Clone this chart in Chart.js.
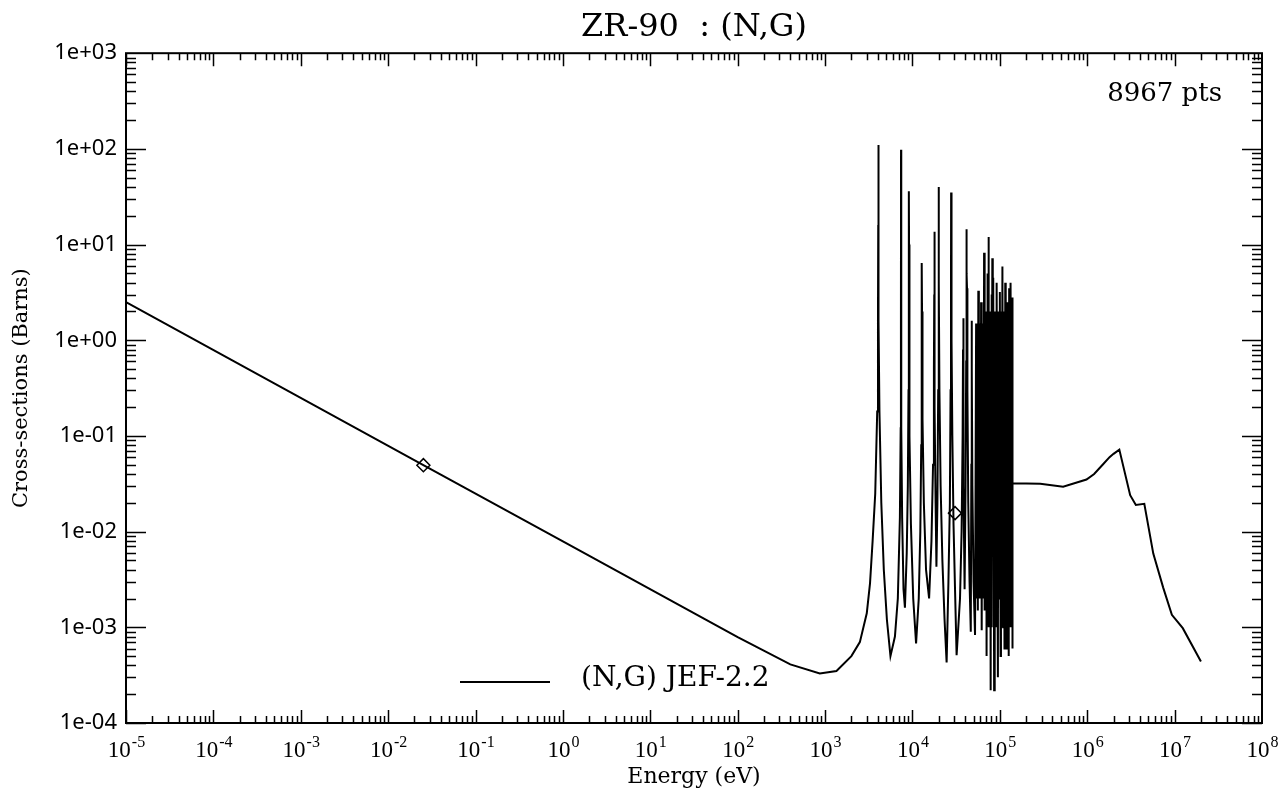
<!DOCTYPE html>
<html>
<head>
<meta charset="utf-8">
<title>ZR-90 : (N,G)</title>
<script src="https://cdn.jsdelivr.net/npm/chart.js@4.4.1/dist/chart.umd.min.js"></script>
<style>
  body { margin: 0; background: #fff; }
  #wrap { width: 1281px; height: 790px; }
</style>
</head>
<body>
<div id="wrap"><canvas id="xs_chart" width="1281" height="790"></canvas></div>
<script>
// values (energy in eV, cross-section in barns)
const thermal_e  = [1e-5, 0.0253, 1, 100, 400, 870, 1350];
const thermal_xs = [2.5, 0.0495, 7.9e-3, 7.9e-4, 4.1e-4, 3.3e-4, 3.5e-4];

// resolved resonances, one resonance (or group) per line
const resolved_e = [
  2000, 2500, 3000, 3270, 3500, 3750, 3950, 4030, 4058, 4070, 4082, 4110, 4190, 4400, 4700, 5100, 5600,
  6300, 6800, 7180, 7330, 7380, 7400, 7420, 7470, 7620, 7900, 8200,
  8600, 8850, 9010, 9080, 9100, 9140, 9180, 9300, 9600, 10200, 11000,
  11800, 12300, 12600, 12720, 12800, 12870, 12960, 13100, 13500, 14300, 15500,
  16500, 17200, 17600, 17750, 17800, 17860, 18050, 18400, 18800,
  19300, 19700, 19920, 20000, 20080, 20350, 21000, 22000, 23300, 24600,
  25800, 26800, 27300, 27600, 27700, 27850, 28000, 28150, 28600, 29500, 30700, 32000,
  35000, 36500, 37500, 37900, 38000, 38200, 38800, 39500,
  40500, 41200, 41550, 41600, 41700, 42100, 42400, 42700, 43500, 45000, 46500,
  47200, 47600, 47700, 47850, 48500, 50000, 52000,
  53500, 54500, 55500, 56000, 56700, 57500, 58300, 59000, 59800, 60300, 61000, 62000,
  63000, 63700, 64500, 65200, 66000, 67000, 68000, 68700, 69500, 70500,
  71500, 72000, 72800, 73400, 74000, 75000, 76000, 76500, 77300, 78500,
  79500, 80000, 80700, 81300, 82000, 83000, 84000, 86000,
  87000, 87700, 88500, 90000, 91000, 91500, 92300, 95000,
  96000, 96500, 97300, 98500, 100000, 102000, 103000, 103500, 104500, 105500,
  107000, 109000, 110000, 110500, 111500, 113000, 114000, 114500, 115300, 116200,
  117300, 119000, 120000, 120500, 121500, 123000, 124500, 126300, 127800, 130000,
  131500, 132200, 133000, 134300, 135800, 136800, 138000, 139200
];
const resolved_xs = [
  5.0e-4, 7e-4, 1.4e-3, 2.9e-3, 8e-3, 0.025, 0.18, 1.6, 16, 110, 16, 1.6, 0.18, 0.02, 4e-3, 1.2e-3, 5e-4,
  8e-4, 2e-3, 0.014, 0.12, 1.3, 98, 1.3, 0.12, 0.014, 2.5e-3, 1.6e-3,
  6e-3, 0.03, 0.3, 3, 36, 10, 1, 0.1, 0.012, 2e-3, 6.8e-4,
  2e-3, 0.01, 0.08, 0.6, 6.4, 2, 1.5, 0.15, 0.02, 4e-3, 2e-3,
  8e-3, 0.05, 0.5, 3, 13.6, 2, 0.2, 0.02, 4.3e-3,
  0.02, 0.3, 4, 40, 4, 0.3, 0.03, 5e-3, 1.2e-3, 4.3e-4,
  3e-3, 0.02, 0.3, 4, 35, 16.6, 16.6, 1, 0.1, 0.012, 2.5e-3, 5.1e-4,
  2e-3, 0.01, 0.1, 0.8, 1.7, 0.5, 0.03, 2.5e-3,
  0.03, 0.6, 6, 14.5, 5, 3.5, 3.5, 0.3, 0.02, 3e-3, 9e-4,
  0.05, 0.6, 1.6, 0.5, 0.03, 3e-3, 8.3e-4,
  1.5, 2e-3, 1, 1.5e-3, 3.3, 4e-3, 1.5, 2e-3, 1.2, 3e-3, 2.5, 9.3e-4,
  1, 2e-3, 1.5, 3e-3, 8.2, 1.5e-3, 1.8, 2e-3, 2, 5e-4,
  1.5, 2e-3, 5, 3e-3, 12, 1e-3, 2, 3e-3, 1.5, 2.2e-4,
  1.5, 1e-3, 3, 1e-3, 7.2, 0.5, 4.5, 2.2e-4,
  2, 1.5e-3, 2, 1e-3, 1.5, 1e-3, 4, 3e-4,
  2, 2e-3, 1.2, 2e-3, 3.2, 5e-4, 1.5, 2e-3, 2, 1e-3,
  5.9, 1e-3, 2, 2e-3, 1.5, 6e-4, 1.5, 2e-3, 4, 2e-3,
  3.1, 6e-4, 1.5, 2e-3, 2.5, 1e-3, 1.8, 5e-4, 3.5, 1e-3,
  2, 1.5e-3, 4, 0.3, 1.2, 1e-3, 2.8, 6e-4
];

const fast_e  = [140000, 290000, 530000, 980000, 1.2e6, 1.5e6, 1.8e6, 2.0e6, 2.33e6, 3.1e6, 3.6e6, 4.5e6, 5.7e6, 7.4e6, 9.3e6, 1.24e7, 2.0e7];
const fast_xs = [0.032, 0.0316, 0.0295, 0.035, 0.04, 0.05, 0.06, 0.065, 0.072, 0.024, 0.019, 0.0195, 5.9e-3, 2.6e-3, 1.35e-3, 9.8e-4, 4.4e-4];

// thermal point and 30 keV point
const marker_e  = [0.0253, 30700];
const marker_xs = [0.0495, 0.0156];

const x_decades = [-5, -4, -3, -2, -1, 0, 1, 2, 3, 4, 5, 6, 7, 8];
const y_decades = [-4, -3, -2, -1, 0, 1, 2, 3];

const title_text = 'ZR-90  : (N,G)';
const legend_text = '(N,G) JEF-2.2';
const pts_text = '8967 pts';

const all_e = thermal_e.concat(resolved_e, fast_e);
const all_xs = thermal_xs.concat(resolved_xs, fast_xs);

function expLabel(v) {
  const p = Math.round(Math.log10(v));
  const s = p < 0 ? '-' : '+';
  const a = Math.abs(p);
  return '1e' + s + (a < 10 ? '0' + a : a);
}

// box round the plot, inward tick marks on all four sides, 10^n labels, legend
const frame_plugin = {
  id: 'frame',
  afterDraw(chart) {
    const ctx = chart.ctx;
    const area = chart.chartArea;
    const xs = chart.scales.x;
    const ys = chart.scales.y;
    ctx.save();
    ctx.strokeStyle = '#000';
    ctx.lineWidth = 1.5;
    for (let p = x_decades[0]; p < x_decades[x_decades.length - 1]; p++) {
      for (let m = 1; m <= 9; m++) {
        const px = Math.round(xs.getPixelForValue(m * Math.pow(10, p))) + 0.5;
        const len = m === 1 ? 13 : 7;
        ctx.beginPath();
        ctx.moveTo(px, area.bottom); ctx.lineTo(px, area.bottom - len);
        ctx.moveTo(px, area.top); ctx.lineTo(px, area.top + len);
        ctx.stroke();
      }
    }
    for (let p = y_decades[0]; p < y_decades[y_decades.length - 1]; p++) {
      for (let m = 1; m <= 9; m++) {
        const py = Math.round(ys.getPixelForValue(m * Math.pow(10, p))) + 0.5;
        const len = m === 1 ? 20 : 10;
        ctx.beginPath();
        ctx.moveTo(area.left, py); ctx.lineTo(area.left + len, py);
        ctx.moveTo(area.right, py); ctx.lineTo(area.right - len, py);
        ctx.stroke();
      }
    }
    ctx.lineWidth = 2;
    ctx.strokeRect(area.left, area.top, area.right - area.left, area.bottom - area.top);

    // x tick labels as 10 with a raised exponent
    ctx.fillStyle = '#000';
    ctx.textBaseline = 'alphabetic';
    ctx.textAlign = 'left';
    const base_font = '23px "Liberation Serif"';
    const exp_font = '16px "Liberation Serif"';
    x_decades.forEach(p => {
      const px = xs.getPixelForValue(Math.pow(10, p));
      const exp = p < 0 ? '-' + Math.abs(p) : String(p);
      ctx.font = base_font;
      const w1 = ctx.measureText('10').width;
      ctx.font = exp_font;
      const w2 = ctx.measureText(exp).width;
      const x0 = px - (w1 + w2) / 2;
      ctx.font = base_font;
      ctx.fillText('10', x0, area.bottom + 34);
      ctx.font = exp_font;
      ctx.fillText(exp, x0 + w1 + 1, area.bottom + 24);
    });

    // legend line and label
    ctx.lineWidth = 2;
    ctx.beginPath();
    ctx.moveTo(area.left + 334, area.bottom - 41);
    ctx.lineTo(area.left + 424, area.bottom - 41);
    ctx.stroke();
    ctx.font = '28px "DejaVu Serif"';
    ctx.fillText(legend_text, area.left + 455, area.bottom - 37);

    ctx.textAlign = 'right';
    ctx.font = '26px "DejaVu Serif"';
    ctx.fillText(pts_text, area.right - 40, area.top + 48);
    ctx.restore();
  }
};

const line_points = all_e.map((e, i) => ({x: e, y: all_xs[i]}));
const marker_points = marker_e.map((e, i) => ({x: e, y: marker_xs[i]}));

const xs_chart = new Chart(document.getElementById('xs_chart').getContext('2d'), {
  type: 'line',
  data: {
    datasets: [{
      label: legend_text,
      data: line_points,
      borderColor: '#000',
      borderWidth: 2,
      pointRadius: 0,
      tension: 0,
      fill: false
    }, {
      label: 'markers',
      data: marker_points,
      showLine: false,
      pointStyle: 'rectRot',
      pointRadius: 6.5,
      borderColor: '#000',
      borderWidth: 1.5,
      backgroundColor: 'rgba(0,0,0,0)'
    }]
  },
  options: {
    responsive: false,
    animation: false,
    devicePixelRatio: 1,
    layout: { padding: { top: 10, right: 19, left: 0, bottom: 0 } },
    plugins: {
      legend: { display: false },
      tooltip: { enabled: false },
      title: {
        display: true,
        text: title_text,
        fullSize: false,
        color: '#000',
        font: { family: 'DejaVu Serif', size: 32, weight: 'normal', lineHeight: 1.1 },
        padding: { top: 0, bottom: 8 }
      }
    },
    scales: {
      x: {
        type: 'logarithmic',
        position: 'bottom',
        min: 1e-5,
        max: 1e8,
        afterBuildTicks(scale) {
          scale.ticks = x_decades.map(p => ({ value: Math.pow(10, p) }));
        },
        afterFit(scale) {
          scale.height = 67;
          scale.paddingLeft = 0;
          scale.paddingRight = 0;
        },
        grid: { display: false, drawTicks: false },
        border: { display: false },
        ticks: { display: false },
        title: {
          display: true,
          text: 'Energy (eV)',
          color: '#000',
          font: { family: 'DejaVu Serif', size: 22 },
          padding: { top: 12, bottom: 0 }
        }
      },
      y: {
        type: 'logarithmic',
        min: 1e-4,
        max: 1e3,
        afterBuildTicks(scale) {
          scale.ticks = y_decades.map(p => ({ value: Math.pow(10, p) }));
        },
        afterFit(scale) { scale.width = 126; },
        grid: { display: false, drawTicks: false },
        border: { display: false },
        ticks: {
          autoSkip: false,
          color: '#000',
          padding: 9,
          font: { family: 'Noto Sans', size: 22 },
          callback(value) { return expLabel(value); }
        },
        title: {
          display: true,
          text: 'Cross-sections (Barns)',
          color: '#000',
          font: { family: 'DejaVu Serif', size: 21 },
          padding: { top: 9, bottom: 0 }
        }
      }
    }
  },
  plugins: [frame_plugin]
});
</script>
</body>
</html>
